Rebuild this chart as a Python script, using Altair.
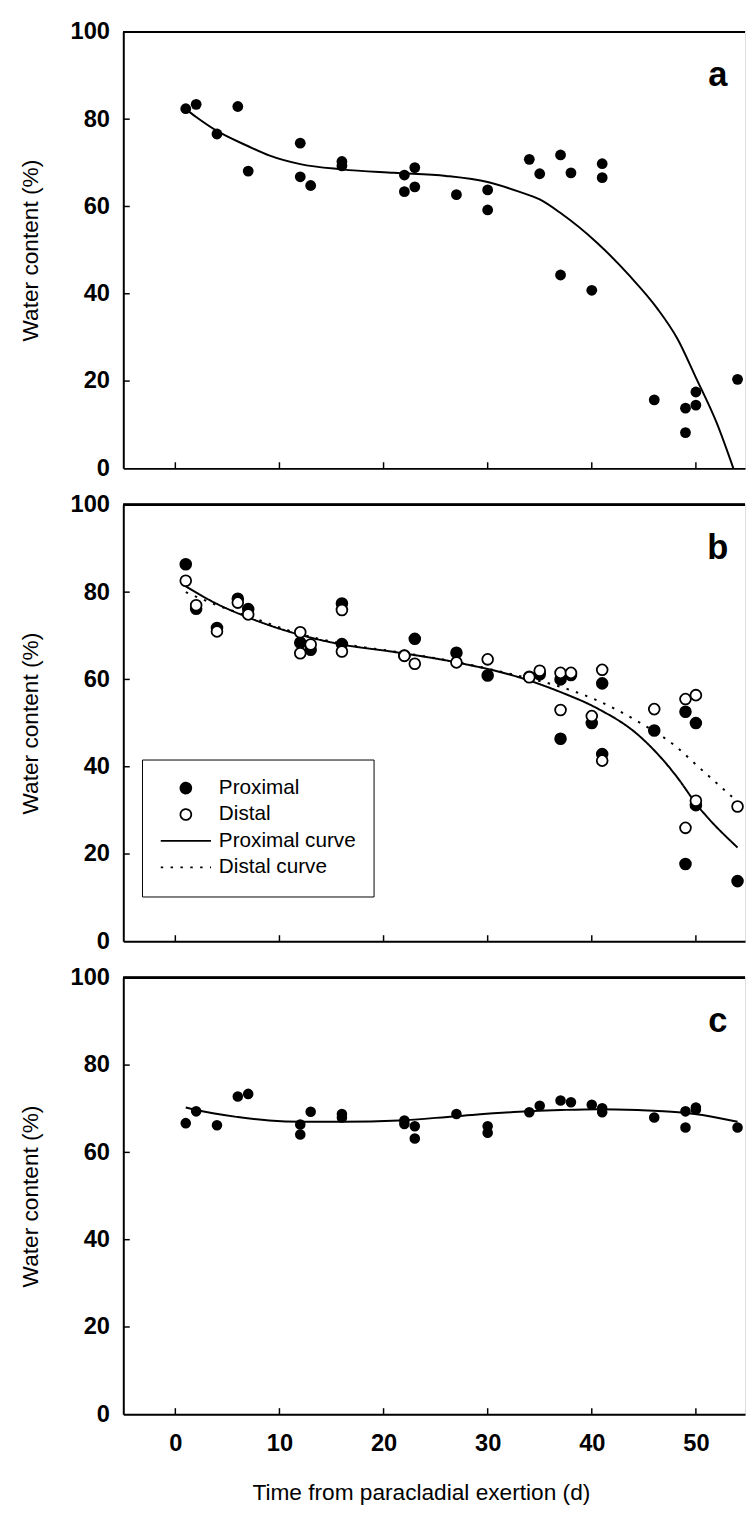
import altair as alt
import pandas as pd

FONT = "Liberation Sans, Arial, Helvetica, sans-serif"
X_DOMAIN = [-5, 54.72]
X_TICKS = [0, 10, 20, 30, 40, 50]
Y_TICKS = [0, 20, 40, 60, 80, 100]
Y_INNER_TICKS = [20, 40, 60, 80]
W, H = 631, 443
GAP = 37

# ---------------- panel a ----------------
A_DAY = [1, 2, 6, 4, 7, 12, 12, 13, 16, 16, 22, 23, 22, 23, 27, 30, 30, 34, 35, 37,
         38, 37, 40, 41, 41, 46, 49, 49, 50, 50, 54]
A_WC = [82.4, 83.4, 82.9, 76.6, 68.1, 74.5, 66.8, 64.8, 70.3, 69.3, 67.2, 68.9, 63.4,
        64.5, 62.7, 63.8, 59.2, 70.8, 67.5, 71.8, 67.7, 44.3, 40.8, 69.8, 66.6, 15.7,
        13.8, 8.2, 17.5, 14.5, 20.4]
AC_DAY = [1, 2, 4, 7, 9, 12, 16, 21, 26, 30, 33, 35, 37, 40.5, 43.6, 46.3, 48.2, 50, 52, 53.6]
AC_WC = [82.3, 80.5, 77.3, 73.8, 71.7, 69.7, 68.5, 67.7, 67.0, 65.6, 63.4, 61.6, 58.5,
         51.7, 44.2, 36.6, 29.8, 20.8, 10.4, 0.0]

# ---------------- panel b ----------------
BP_DAY = [1, 2, 4, 6, 7, 12, 13, 16, 16, 22, 23, 27, 30, 34, 35, 37, 37, 38, 40, 41,
          41, 46, 49, 49, 50, 50, 54]
BP_WC = [86.4, 76.2, 71.8, 78.5, 76.1, 68.4, 66.8, 77.4, 68.1, 65.5, 69.3, 66.1, 60.9,
         60.6, 61.2, 60.0, 46.4, 61.0, 50.0, 59.1, 42.9, 48.3, 52.6, 17.7, 50.0, 31.2, 13.8]
BD_DAY = [1, 2, 4, 6, 7, 12, 12, 13, 16, 16, 22, 23, 27, 30, 34, 35, 37, 37, 38, 40,
          41, 41, 46, 49, 49, 50, 50, 54]
BD_WC = [82.6, 77.0, 71.0, 77.6, 74.9, 70.8, 66.0, 68.0, 75.9, 66.4, 65.4, 63.6, 63.9,
         64.6, 60.5, 62.0, 61.5, 53.0, 61.5, 51.6, 62.2, 41.4, 53.2, 55.5, 26.0, 56.4,
         32.2, 30.9]
BPC_DAY = [1, 4, 7, 12, 16, 21, 27, 33, 37, 40.5, 44.4, 48.2, 50, 54]
BPC_WC = [81.3, 77.3, 74.2, 70.2, 68.0, 66.3, 63.9, 60.5, 57.1, 53.4, 47.4, 37.6, 31.6, 21.5]
BDC_DAY = [1, 4, 7, 12, 16, 21, 27, 33, 37, 40.5, 44.4, 48.2, 50, 54]
BDC_WC = [80.0, 77.0, 74.5, 70.4, 68.2, 66.4, 64.0, 60.8, 58.3, 55.2, 50.4, 44.4, 40.5, 32.0]

# ---------------- panel c ----------------
C_DAY = [1, 2, 4, 6, 7, 12, 12, 13, 16, 16, 22, 22, 23, 23, 27, 30, 30, 34, 35, 37,
         38, 40, 41, 41, 46, 49, 49, 50, 50, 54]
C_WC = [66.7, 69.4, 66.2, 72.8, 73.4, 66.4, 64.1, 69.3, 68.8, 68.0, 67.3, 66.5, 66.0,
        63.2, 68.8, 66.0, 64.5, 69.2, 70.7, 71.9, 71.5, 70.9, 70.1, 69.2, 68.0, 69.4,
        65.7, 70.3, 69.8, 65.7]
CC_DAY = [1, 2, 6, 9, 12, 16, 21.5, 27, 33, 37, 40.5, 44.4, 48.3, 51.3, 54]
CC_WC = [70.3, 69.7, 68.1, 67.3, 67.0, 67.0, 67.3, 68.3, 69.3, 69.7, 69.9, 69.7, 69.2, 68.3, 67.0]

LEG = ["Proximal", "Distal", "Proximal curve", "Distal curve"]
PANEL_LABELS = ["a", "b", "c"]

CIRC = "M0.215,0A0.215,0.215,0,1,1,-0.215,0A0.215,0.215,0,1,1,0.215,0Z"
LINE = "M-1,0L1,0"

xs = alt.Scale(domain=X_DOMAIN, nice=False, zero=False)
ys = alt.Scale(domain=[0, 100], nice=False, zero=False)

Y_AXIS = alt.Axis(values=Y_TICKS, title="Water content (%)", ticks=False, tickSize=0,
                  labelPadding=14, titlePadding=28, labelFont=FONT, labelFontSize=24,
                  labelFontWeight="bold", labelColor="black", titleFont=FONT,
                  titleFontSize=23, titleFontWeight="normal", titleColor="black",
                  domainColor="black", domainWidth=2, grid=False)
X_AXIS_PLAIN = alt.Axis(values=X_TICKS, title=None, labels=False, ticks=False, tickSize=0,
                        domainColor="black", domainWidth=2, grid=False)
X_AXIS_FULL = alt.Axis(values=X_TICKS, title="Time from paracladial exertion (d)",
                       ticks=False, tickSize=0, labelPadding=18, titlePadding=26,
                       labelFont=FONT, labelFontSize=24, labelFontWeight="bold",
                       labelColor="black", titleFont=FONT, titleFontSize=23,
                       titleFontWeight="normal", titleColor="black", titleX=302,
                       domainColor="black", domainWidth=2, grid=False)


def X(field, axis):
    return alt.X(field, type="quantitative", scale=xs, axis=axis)


def Y(field):
    return alt.Y(field, type="quantitative", scale=ys, axis=Y_AXIS)


def frame_layers(axis, label):
    xt = pd.DataFrame({"v": X_TICKS})
    yt = pd.DataFrame({"v": Y_INNER_TICKS})
    xticks = alt.Chart(xt).mark_rule(color="black", strokeWidth=1.5).encode(
        x=X("v", axis), y=alt.datum(0, scale=ys), y2=alt.datum(1.4))
    yticks = alt.Chart(yt).mark_rule(color="black", strokeWidth=1.5).encode(
        y=Y("v"), x=alt.datum(X_DOMAIN[0], scale=xs), x2=alt.datum(X_DOMAIN[0] + 0.62))
    top = alt.Chart(xt).mark_rule(color="black", strokeWidth=2).encode(
        y=alt.datum(100, scale=ys), x=alt.datum(X_DOMAIN[0], scale=xs), x2=alt.datum(X_DOMAIN[1]))
    lab = alt.Chart(pd.DataFrame({"t": [label]})).mark_text(
        font=FONT, fontSize=35, fontWeight="bold", color="black",
        align="center", baseline="alphabetic").encode(
        x=alt.datum(52.1, scale=xs), y=alt.datum(87.6, scale=ys), text="t:N")
    return [xticks, yticks, top, lab]


# panel a
dfa = pd.DataFrame({"day": A_DAY, "wc": A_WC})
dfac = pd.DataFrame({"day": AC_DAY, "wc": AC_WC})
pa_pts = alt.Chart(dfa).mark_circle(size=120, color="black", opacity=1, clip=True).encode(
    x=X("day", X_AXIS_PLAIN), y=Y("wc"))
pa_line = alt.Chart(dfac).mark_line(color="black", strokeWidth=2, interpolate="monotone",
                                    clip=True).encode(x=X("day", X_AXIS_PLAIN), y=Y("wc"))
panel_a = alt.layer(*frame_layers(X_AXIS_PLAIN, PANEL_LABELS[0]), pa_line, pa_pts).properties(
    width=W, height=H)

# panel b (legend is positioned relative to the top of the whole figure)
LEGEND = alt.Legend(title=None, orient="none", legendX=19, legendY=258 + H + GAP + 0.5,
                    padding=18, strokeColor="black", fillColor="white", labelFont=FONT,
                    labelFontSize=21, labelColor="black", symbolSize=2600,
                    symbolStrokeWidth=1.8, clipHeight=22,
                    rowPadding=4.8, labelOffset=7, symbolOffset=0, labelLimit=400)
dfb = pd.DataFrame({"day": BP_DAY + BD_DAY, "wc": BP_WC + BD_WC,
                    "series": [LEG[0]] * len(BP_DAY) + [LEG[1]] * len(BD_DAY)})
dfbc = pd.DataFrame({"day": BPC_DAY + BDC_DAY, "wc": BPC_WC + BDC_WC,
                     "series": [LEG[2]] * len(BPC_DAY) + [LEG[3]] * len(BDC_DAY)})
STROKE_SCALE = alt.Scale(domain=LEG, range=["black", "black", "black", "black"])
pb_pts = alt.Chart(dfb).mark_point(filled=True, opacity=1, strokeWidth=1.8,
                                   size=2600, clip=True).encode(
    x=X("day", X_AXIS_PLAIN), y=Y("wc"),
    shape=alt.Shape("series:N", scale=alt.Scale(domain=LEG, range=[CIRC, CIRC, LINE, LINE]),
                    legend=LEGEND),
    fill=alt.Fill("series:N", scale=alt.Scale(domain=LEG, range=["black", "white", "black", "black"]),
                  legend=LEGEND),
    stroke=alt.Stroke("series:N", scale=STROKE_SCALE, legend=LEGEND),
)
pb_lines = alt.Chart(dfbc).mark_line(strokeWidth=2, interpolate="monotone",
                                     clip=True).encode(
    x=X("day", X_AXIS_PLAIN), y=Y("wc"),
    stroke=alt.Stroke("series:N", scale=STROKE_SCALE, legend=LEGEND),
    strokeDash=alt.StrokeDash("series:N", scale=alt.Scale(domain=LEG,
                              range=[[1, 0], [1, 0], [1, 0], [2.5, 7.5]]), legend=LEGEND),
)
panel_b = alt.layer(*frame_layers(X_AXIS_PLAIN, PANEL_LABELS[1]), pb_lines, pb_pts).properties(
    width=W, height=H)

# panel c
dfc = pd.DataFrame({"day": C_DAY, "wc": C_WC})
dfcc = pd.DataFrame({"day": CC_DAY, "wc": CC_WC})
pc_pts = alt.Chart(dfc).mark_circle(size=115, color="black", opacity=1, clip=True).encode(
    x=X("day", X_AXIS_FULL), y=Y("wc"))
pc_line = alt.Chart(dfcc).mark_line(color="black", strokeWidth=2, interpolate="monotone",
                                    clip=True).encode(x=X("day", X_AXIS_FULL), y=Y("wc"))
panel_c = alt.layer(*frame_layers(X_AXIS_FULL, PANEL_LABELS[2]), pc_line, pc_pts).properties(
    width=W, height=H)

chart = alt.vconcat(panel_a, panel_b, panel_c, spacing=GAP, bounds="flush").properties(
    padding={"left": 11, "top": 0, "right": 0, "bottom": 0}
).configure_view(stroke=None).configure(background="white")

chart.save("out.html", embed_options={"renderer": "svg", "actions": False})
